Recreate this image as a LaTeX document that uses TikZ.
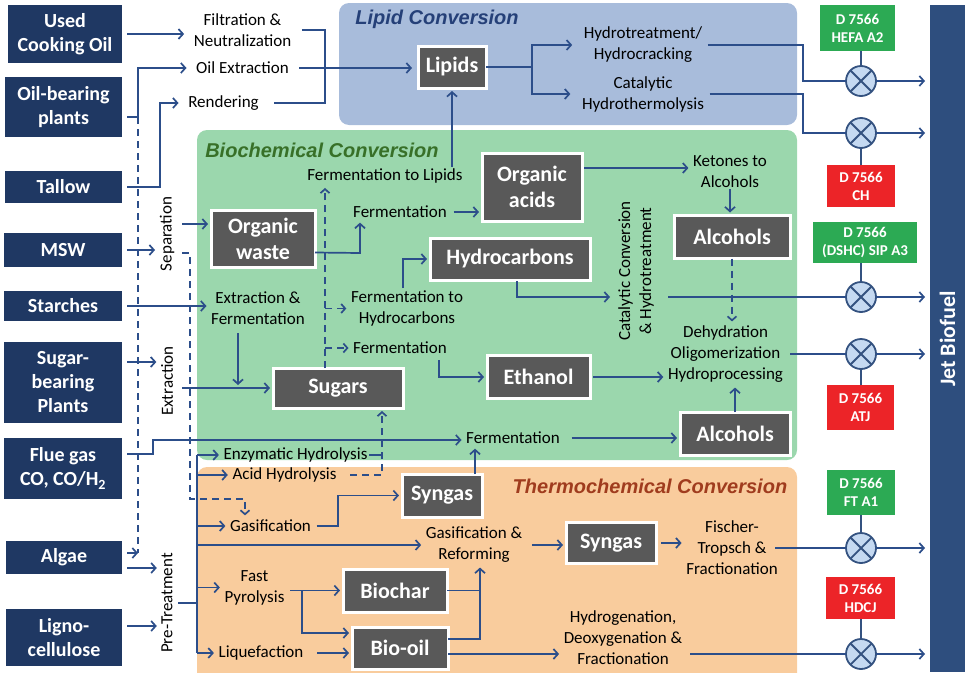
\documentclass[tikz,border=0pt]{standalone}
\usepackage{fontspec}
\setmainfont{Carlito}
\newfontfamily\titlefont{Liberation Sans}
\usetikzlibrary{arrows.meta,calc}
\definecolor{srcnavy}{RGB}{31,56,99}
\definecolor{jetblue}{RGB}{46,78,126}
\definecolor{conn}{RGB}{44,78,138}
\definecolor{lipidbg}{RGB}{168,188,219}
\definecolor{biobg}{RGB}{155,215,173}
\definecolor{thermobg}{RGB}{249,204,157}
\definecolor{procgray}{RGB}{89,89,89}
\definecolor{astmgreen}{RGB}{44,170,84}
\definecolor{astmred}{RGB}{236,36,40}
\definecolor{circfill}{RGB}{197,217,241}
\definecolor{circline}{RGB}{52,82,128}
\definecolor{liptitle}{RGB}{37,64,120}
\definecolor{biotitle}{RGB}{56,112,40}
\definecolor{thermotitle}{RGB}{160,60,30}
\tikzset{
  src/.style={fill=srcnavy, text=white, font=\bfseries\fontsize{20}{24}\selectfont, align=center, inner sep=0pt, outer sep=0pt},
  proc/.style={fill=procgray, draw=white, line width=3pt, text=white, font=\bfseries\fontsize{22}{26}\selectfont, align=center, inner sep=0pt, outer sep=0pt},
  astm/.style={text=white, font=\bfseries\fontsize{15}{18}\selectfont, align=center, inner sep=0pt, outer sep=0pt},
  lbl/.style={font=\fontsize{17}{21}\selectfont, align=center, inner sep=1.5pt},
  rlbl/.style={lbl, rotate=90},
  rtitle/.style={font=\titlefont\bfseries\itshape\fontsize{20}{24}\selectfont, inner sep=0pt},
  mixer/.style={circle, draw=circline, fill=circfill, line width=1.8pt, minimum size=30pt, inner sep=0pt, outer sep=0pt},
  conline/.style={draw=conn, line width=1.7pt},
  arr/.style={conline, -{Straight Barb[length=4.5pt,width=10pt]}, shorten >=3pt},
  dline/.style={conline, dash pattern=on 7pt off 5pt},
  darr/.style={dline, -{Straight Barb[length=4pt,width=9pt]}, shorten >=3pt},
  stub/.style={draw=circline, line width=1.8pt},
}
\begin{document}
\begin{tikzpicture}[x=1pt,y=-1pt]
\useasboundingbox (0,0) rectangle (965,672);
% regions
\begin{scope}
\clip (0,0) rectangle (965,672);
\fill[lipidbg, rounded corners=10pt] (339,3) rectangle (797,125);
\fill[biobg, rounded corners=10pt] (197,130) rectangle (797,460);
\fill[thermobg, rounded corners=10pt] (197,467) rectangle (797,700);
\end{scope}
\node[rtitle, text=liptitle] (tlip) at (437,19) {Lipid Conversion};
\node[rtitle, text=biotitle] (tbio) at (322,150) {Biochemical Conversion};
\node[rtitle, text=thermotitle] (tthe) at (650,486) {Thermochemical Conversion};

% sources
\node[src, minimum width=114pt, minimum height=58pt] (uco) at (65,34) {Used\\Cooking Oil};
\node[src, minimum width=117pt, minimum height=60pt] (obp) at (63.5,107) {Oil-bearing\\plants};
\node[src, minimum width=117pt, minimum height=32pt] (tal) at (63.5,187) {Tallow};
\node[src, minimum width=118pt, minimum height=34pt] (msw) at (63,250) {MSW};
\node[src, minimum width=118pt, minimum height=30pt] (sta) at (63,306) {Starches};
\node[src, minimum width=118pt, minimum height=81pt] (sbp) at (63,382.5) {Sugar-\\bearing\\Plants};
\node[src, minimum width=118pt, minimum height=61pt] (flue) at (63,468.5) {Flue gas\\CO, CO/H\textsubscript{2}};
\node[src, minimum width=116pt, minimum height=33pt] (alg) at (64,557.5) {Algae};
\node[src, minimum width=116pt, minimum height=57pt] (lig) at (64,637.5) {Ligno-\\cellulose};

% jet biofuel
\node[fill=jetblue, minimum width=35pt, minimum height=667pt, inner sep=0pt, outer sep=0pt] (jet) at (947.5,338.5) {};
\node[rotate=90, text=white, font=\bfseries\fontsize{22}{26}\selectfont, inner sep=0pt] (jettxt) at (947.5,339) {Jet Biofuel};

% process boxes
\node[proc, minimum width=68pt, minimum height=42pt] (lipids) at (452,67) {Lipids};
\node[proc, minimum width=100pt, minimum height=68pt] (oacids) at (532,187) {Organic\\acids};
\node[proc, minimum width=104pt, minimum height=57pt] (owaste) at (263,238.5) {Organic\\waste};
\node[proc, minimum width=160pt, minimum height=42pt] (hydroc) at (510,259) {Hydrocarbons};
\node[proc, minimum width=116pt, minimum height=43pt] (alc1) at (732,237) {Alcohols};
\node[proc, minimum width=130pt, minimum height=40pt] (sugars) at (338,388) {Sugars};
\node[proc, minimum width=103pt, minimum height=43pt] (ethanol) at (538.5,377) {Ethanol};
\node[proc, minimum width=110pt, minimum height=43pt] (alc2) at (735,433.5) {Alcohols};
\node[proc, minimum width=80pt, minimum height=43pt] (syn1) at (442,495.5) {Syngas};
\node[proc, minimum width=90pt, minimum height=41pt] (syn2) at (611,543) {Syngas};
\node[proc, minimum width=104pt, minimum height=43pt] (biochar) at (395,590.5) {Biochar};
\node[proc, minimum width=96pt, minimum height=42pt] (biooil) at (400,648) {Bio-oil};

% ASTM labels
\node[astm, fill=astmgreen, minimum width=75pt, minimum height=46pt] (a1) at (857.5,28) {D 7566\\HEFA A2};
\node[astm, fill=astmred, minimum width=68pt, minimum height=42pt] (a2) at (861,186) {D 7566\\CH};
\node[astm, fill=astmgreen, minimum width=104pt, minimum height=41pt] (a3) at (865,242.5) {D 7566\\(DSHC) SIP A3};
\node[astm, fill=astmred, minimum width=67pt, minimum height=45pt] (a4) at (860.5,407.5) {D 7566\\ATJ};
\node[astm, fill=astmgreen, minimum width=68pt, minimum height=45pt] (a5) at (861,492.5) {D 7566\\FT A1};
\node[astm, fill=astmred, minimum width=69pt, minimum height=42pt] (a6) at (860.5,598) {D 7566\\HDCJ};

% mixers
\node[mixer] (c1) at (861,81) {};
\node[mixer] (c2) at (861,133) {};
\node[mixer] (c3) at (861,297) {};
\node[mixer] (c4) at (861,354) {};
\node[mixer] (c5) at (861,548) {};
\node[mixer] (c6) at (861,654) {};
\foreach \m in {c1,c2,c3,c4,c5,c6}{
  \draw[stub] (\m.north west) -- (\m.south east) (\m.north east) -- (\m.south west);
  \draw[arr, shorten >=5pt] (\m.east) -- (\m.east -| jet.west);
}
\draw[stub] (c1.north |- a1.south) -- (c1.north);
\draw[stub] (c2.south |- a2.north) -- (c2.south);
\draw[stub] (c3.north |- a3.south) -- (c3.north);
\draw[stub] (c4.south |- a4.north) -- (c4.south);
\draw[stub] (c5.north |- a5.south) -- (c5.north);
\draw[stub] (c6.north |- a6.south) -- (c6.north);

% text labels
\node[lbl] (filt) at (242.5,30) {Filtration \&\\Neutralization};
\node[lbl] (oilx) at (242.5,68) {Oil Extraction};
\node[lbl] (rend) at (223.5,103) {Rendering};
\node[lbl] (ht) at (643,45) {Hydrotreatment/\\Hydrocracking};
\node[lbl] (chy) at (643,94) {Catalytic\\Hydrothermolysis};
\node[rlbl] (sep) at (167,234) {Separation};
\node[rlbl] (ext) at (167,381) {Extraction};
\node[rlbl] (pre) at (167,603) {Pre-Treatment};
\node[lbl] (fl) at (385,176) {Fermentation to Lipids};
\node[lbl] (ferm1) at (400,212) {Fermentation};
\node[lbl] (extf) at (258,308.5) {Extraction \&\\Fermentation};
\node[lbl] (fh) at (407,308.5) {Fermentation to\\Hydrocarbons};
\node[lbl] (ferm2) at (400,348) {Fermentation};
\node[lbl] (ket) at (730,171.5) {Ketones to\\Alcohols};
\node[rlbl] (cat) at (636,271) {Catalytic Conversion\\\& Hydrotreatment};
\node[lbl] (dehyd) at (725.5,354.5) {Dehydration\\Oligomerization\\Hydroprocessing};
\node[lbl] (ferm3) at (513,438) {Fermentation};
\node[lbl] (enz) at (295.5,455) {Enzymatic Hydrolysis};
\node[lbl] (acid) at (284.5,475) {Acid Hydrolysis};
\node[lbl] (gasif) at (270.5,526) {Gasification};
\node[lbl] (gref) at (474,545) {Gasification \&\\Reforming};
\node[lbl] (ft) at (732,548) {Fischer-\\Tropsch \&\\Fractionation};
\node[lbl] (fpyr) at (254.5,587.5) {Fast\\Pyrolysis};
\node[lbl] (liq) at (261,653) {Liquefaction};
\node[lbl] (hyd) at (623,638) {Hydrogenation,\\Deoxygenation \&\\Fractionation};

% coordinates for bends and free ends
\coordinate (brk) at (325,68);
\coordinate (dtop) at (138,117);
\coordinate (dbot) at (138,553);
\coordinate (algin) at (127,553);
\coordinate (tk) at (160,187);
\coordinate (sepo) at (182,224);
\coordinate (s0) at (182,253);
\coordinate (s1) at (190,253);
\coordinate (s2) at (190,499);
\coordinate (s3) at (245,499);
\coordinate (sbin) at (127,362);
\coordinate (exo) at (182,388);
\coordinate (efd) at (238,333);
\coordinate (fg0) at (127,454);
\coordinate (fg1) at (153,454);
\coordinate (fg2) at (153,440);
\coordinate (algp) at (127,568);
\coordinate (ligp) at (127,626);
\coordinate (t0) at (197,455);
\coordinate (t1) at (197,653);
\coordinate (h1) at (382,455);
\coordinate (h2) at (382,475);
\coordinate (sf) at (475,474);
\coordinate (g1) at (338,526);
\coordinate (fte) at (775,548);
\coordinate (fp0) at (290,590.5);
\coordinate (fp) at (302,590.5);
\coordinate (bv1) at (480,639);
\coordinate (bo) at (448,654);
\coordinate (hye) at (690,654);
\coordinate (ow) at (360,253);
\coordinate (sd) at (325,368);
\coordinate (fhc) at (403,288);
\coordinate (f2e) at (439,360);
\coordinate (hc) at (517,281);
\coordinate (hc2) at (613,297);
\coordinate (cte) at (668,297);
\coordinate (oak) at (584,168);
\coordinate (dhe) at (790,354);
\coordinate (ls) at (532,67);
\coordinate (k1) at (803,81);
\coordinate (k2) at (803,133);

% lipid feed connectors
\draw[arr, shorten >=8pt] ([xshift=5pt]uco.east) -- (uco.east -| filt.west);
\draw[conline] ([xshift=9pt]filt.east) -| (brk) |- ([xshift=14pt]rend.east);
\draw[arr, shorten >=6pt] ([xshift=9pt]oilx.east) -- (oilx.east -| lipids.west);
\draw[arr, shorten >=8pt] ([xshift=5pt,yshift=-10pt]obp.east) -- (dtop) |- (oilx.west);
\draw[arr, shorten >=8pt] ([xshift=5pt]tal.east) -- (tk) |- (rend.west);
\draw[dline] (dtop) -- (dbot);
\draw[arr, shorten >=0pt] (algin) -- (dbot);

% MSW, starches, sugars
\draw[arr] ([xshift=5pt]msw.east) -- (msw.east -| sep.north);
\draw[arr] (sepo) -- (sepo -| owaste.west);
\draw[darr] (s0) -- (s1) -- (s2) -- (s3) -- (s3 |- gasif.north);
\draw[arr] ([xshift=5pt]sta.east) -- (sta.east -| extf.west);
\draw[arr] (sbin) -- (sbin -| ext.north);
\draw[arr] (exo) -- (sugars.west);
\draw[arr] (efd) -- (efd |- sugars.west);

% flue gas
\draw[arr] (fg0) -- (fg1) -- (fg2) -- (fg2 -| ferm3.west);
\draw[arr] ([xshift=10pt]ferm3.east) -- (ferm3.east -| alc2.west);

% pre-treatment trunk
\draw[arr] (algp) -- (algp -| pre.north);
\draw[arr] (ligp) -- (ligp -| pre.north);
\draw[conline] (t0) -- (t1);
\draw[conline] ([xshift=4pt]pre.south) -- (pre.south -| t0);
\draw[arr] (t0) -- (t0 -| enz.west);
\draw[arr] (t0 |- acid.west) -- (acid.west);
\draw[arr] (t0 |- gasif.west) -- (gasif.west);
\draw[arr] (t0 |- gref.west) -- (gref.west);
\draw[arr] (t0 |- fpyr.west) -- (fpyr.west);
\draw[arr] (t1) -- (t1 -| liq.west);

% hydrolysis to sugars
\draw[conline] (enz.east) -- (h1);
\draw[darr] ([xshift=12pt]acid.east) -- (h2) -- (h2 |- sugars.south);

% thermochemical
\draw[arr] (sf) -- (sf |- ferm3.south);
\draw[arr] ([xshift=4pt]gasif.east) -- (g1) |- (syn1.west);
\draw[arr] ([xshift=8pt]gref.east) -- (gref.east -| syn2.west);
\draw[arr] ([xshift=5pt]syn2.east) -- (syn2.east -| ft.west);
\draw[conline] (fte) -- (c5.west);
\draw[arr] (fp0) -- (biochar.west);
\draw[arr] (fp) |- ($(biooil.west)+(0,-15)$);
\draw[arr] ([xshift=12pt]liq.east) -- (liq.east -| biooil.west);
\draw[conline] (biochar.east) -- (biochar.east -| bv1);
\draw[arr] (biooil.east |- bv1) -- (bv1) -- (bv1 |- gref.south);
\draw[arr] (bo) -- (bo -| hyd.west);
\draw[conline] (hye) -- (c6.west);

% biochemical
\draw[arr] ([yshift=-14pt]owaste.east) -- (ow) -- (ow |- ferm1.south);
\draw[arr] ([xshift=5pt]ferm1.east) -- (ferm1.east -| oacids.west);
\draw[darr] (sd) -- (sd |- fl.south);
\draw[darr] (sd |- fh.west) -- (fh.west);
\draw[darr] (sd |- ferm2.west) -- (ferm2.west);
\draw[arr] (fl.north -| lipids.south) -- (lipids.south);
\draw[arr] (fhc) |- (hydroc.west);
\draw[arr] (f2e) |- (ethanol.west);
\draw[arr] (hc) |- (hc2);
\draw[conline] (cte) -- (c3.west);
\draw[arr] (oak) -- (oak -| ket.west);
\draw[arr] (ket.south) -- (ket.south |- alc1.north);
\draw[darr] (alc1.south) -- (alc1.south |- dehyd.north);
\draw[arr] ([xshift=3pt]ethanol.east) -- (ethanol.east -| dehyd.west);
\draw[arr] (alc2.north) -- (alc2.north |- dehyd.south);
\draw[conline] (dhe) -- (c4.west);

% lipid conversion
\draw[conline] (lipids.east) -- (ls);
\draw[arr, shorten >=10pt] (ls) |- (ht.west);
\draw[arr, shorten >=10pt] (ls) |- (chy.west);
\draw[conline] ([xshift=4pt]ht.east) -| (k1) -- (c1.west);
\draw[conline] ([xshift=4pt]chy.east) -| (k2) -- (c2.west);
\end{tikzpicture}
\end{document}
